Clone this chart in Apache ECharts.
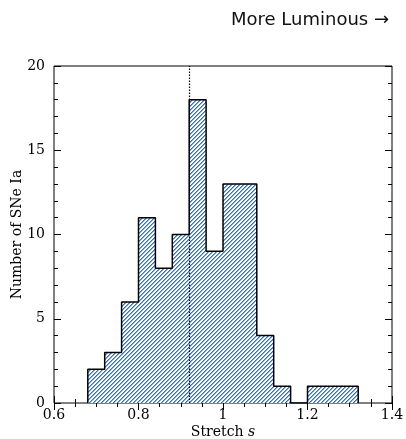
<!DOCTYPE html>
<html>
<head>
<meta charset="utf-8">
<script src="https://cdn.jsdelivr.net/npm/echarts@6/dist/echarts.min.js"></script>
<style>
  html, body { margin: 0; padding: 0; background: #fff; }
  #chart { width: 406px; height: 439px; }
</style>
</head>
<body>
<div id="chart"></div>
<script>
// histogram bins (stretch s), width 0.04
var binEdges = [0.68, 0.72, 0.76, 0.80, 0.84, 0.88, 0.92, 0.96, 1.00, 1.04, 1.08, 1.12, 1.16, 1.20, 1.24, 1.28, 1.32];
var counts   = [2, 3, 6, 11, 8, 10, 18, 9, 13, 13, 4, 1, 0, 1, 1, 1];
var markS = 0.92;           // dotted line

// outline vertices of the step histogram
var outline = [[binEdges[0], 0]];
for (var i = 0; i < counts.length; i++) {
    outline.push([binEdges[i], counts[i]]);
    outline.push([binEdges[i + 1], counts[i]]);
}
outline.push([binEdges[binEdges.length - 1], 0]);

// hatch pattern ( "/" lines ), drawn pixel by pixel so it stays crisp
var hatch = document.createElement('canvas');
hatch.width = 4;
hatch.height = 4;
var hc = hatch.getContext('2d');
hc.fillStyle = '#ffffff';
hc.fillRect(0, 0, 4, 4);
for (var k = 0; k < 4; k++) {
    hc.fillStyle = '#3470c6';
    hc.fillRect(k, 3 - k, 1, 1);
    hc.fillStyle = '#86acdf';
    hc.fillRect((k + 1) % 4, 3 - k, 1, 1);
}

var serif = 'DejaVu Serif';
var tickStyle = { show: true, inside: true, length: 7, lineStyle: { color: '#000', width: 1 } };

var chart = echarts.init(document.getElementById('chart'));
chart.setOption({
    animation: false,
    backgroundColor: '#fff',
    title: {
        text: 'More Luminous \u2192',
        right: 12, top: 6,
        textStyle: { fontFamily: 'DejaVu Sans', fontWeight: 'normal', fontSize: 18, color: '#111' }
    },
    grid: {
        left: 54, right: 14, top: 66, bottom: 36,
        outerBoundsMode: 'none', containLabel: false,
        show: true, borderColor: '#000', borderWidth: 1
    },
    xAxis: [{
        type: 'value', min: 0.6, max: 1.4, interval: 0.2,
        axisLine: { show: false },
        axisTick: tickStyle,
        minorTick: { show: true, splitNumber: 4, length: 4, lineStyle: { color: '#000' } },
        splitLine: { show: false },
        axisLabel: {
            fontFamily: serif, fontSize: 14, color: '#000', margin: 5,
            formatter: function (v) { return String(+v.toFixed(1)); }
        },
        name: '{n|Stretch }{i|s}', nameLocation: 'middle', nameGap: 22, nameMoveOverlap: false,
        nameTextStyle: {
            rich: {
                n: { fontFamily: serif, fontSize: 14, color: '#000' },
                i: { fontFamily: serif, fontSize: 14, fontStyle: 'italic', color: '#000' }
            }
        }
    }, {
        type: 'value', position: 'top', min: 0.6, max: 1.4, interval: 0.2,
        axisLine: { show: false },
        axisTick: tickStyle,
        minorTick: { show: true, splitNumber: 4, length: 4, lineStyle: { color: '#000' } },
        splitLine: { show: false },
        axisLabel: { show: false }
    }],
    yAxis: [{
        type: 'value', min: 0, max: 20, interval: 5,
        axisLine: { show: false },
        axisTick: tickStyle,
        minorTick: { show: true, splitNumber: 5, length: 4, lineStyle: { color: '#000' } },
        splitLine: { show: false },
        axisLabel: { fontFamily: serif, fontSize: 14, color: '#000', margin: 9 },
        name: 'Number of SNe Ia', nameLocation: 'middle', nameGap: 30, nameMoveOverlap: false,
        nameTextStyle: { fontFamily: serif, fontSize: 14, color: '#000' }
    }, {
        type: 'value', position: 'right', min: 0, max: 20, interval: 5,
        axisLine: { show: false },
        axisTick: tickStyle,
        minorTick: { show: true, splitNumber: 5, length: 4, lineStyle: { color: '#000' } },
        splitLine: { show: false },
        axisLabel: { show: false }
    }],
    series: [{
        type: 'line',
        data: outline,
        symbol: 'none',
        lineStyle: { color: '#000', width: 1.5 },
        areaStyle: { color: { image: hatch, repeat: 'repeat' }, opacity: 1 },
        markLine: {
            silent: true, symbol: 'none', label: { show: false },
            lineStyle: { color: '#000', type: [1.5, 1.5], width: 1.2 },
            data: [{ xAxis: markS }]
        },
        z: 3
    }]
});
</script>
</body>
</html>
